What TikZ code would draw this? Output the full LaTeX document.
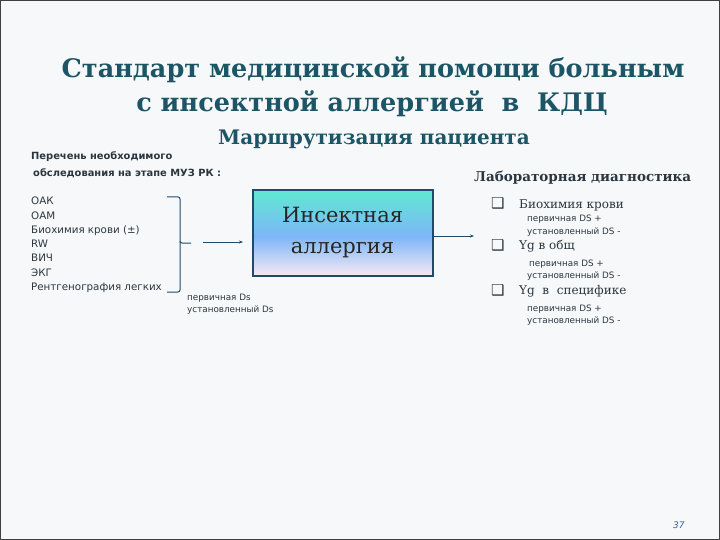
\documentclass[tikz,border=0pt]{standalone}
\usepackage{fontspec}
\setmainfont{DejaVu Serif}
\setsansfont{DejaVu Sans}
\newfontfamily\symfont{DejaVu Sans}
\usetikzlibrary{arrows.meta,positioning}
\definecolor{slidebg}{HTML}{F7F8F9}
\definecolor{titleink}{HTML}{1C5566}
\definecolor{bodyink}{HTML}{2A3640}
\definecolor{boxedge}{HTML}{1F4A6A}
\definecolor{boxtop}{HTML}{5FE9D2}
\definecolor{boxmid}{HTML}{7DB6F8}
\definecolor{boxbot}{HTML}{F6E8F4}
\definecolor{pageink}{HTML}{2E5E9E}
\pgfdeclareverticalshading{boxshade}{100bp}{color(0bp)=(boxbot); color(25bp)=(boxbot);
  color(48bp)=(boxmid); color(75bp)=(boxtop); color(100bp)=(boxtop)}

\begin{document}
\begin{tikzpicture}[x=1pt,y=-1pt,
  txt/.style={anchor=base west,inner sep=0pt,text=bodyink},
  item/.style={txt,font=\sffamily\fontsize{10.3}{13}\selectfont},
  note/.style={txt,font=\sffamily\fontsize{8.8}{11}\selectfont},
  labitem/.style={txt,font=\fontsize{12}{15}\selectfont},
  chk/.style={txt,font=\symfont\fontsize{15}{17}\selectfont},
  arr/.style={-{Stealth[length=4pt,width=3pt]},line width=1pt,draw=boxedge}]
  \useasboundingbox (0,0) rectangle (720,540);
  \draw[fill=slidebg,draw=black!75,line width=1.5pt] (0,0) rectangle (720,540);

  % title
  \node[anchor=base,inner sep=0pt,text=titleink,font=\bfseries\fontsize{25.5}{30}\selectfont] (t1)
    at (373,78) {Стандарт медицинской помощи больным};
  \node[anchor=base,inner sep=0pt,text=titleink,font=\bfseries\fontsize{25.5}{30}\selectfont] (t2)
    at (372,112) {с инсектной аллергией\ \ в\ \ КДЦ};
  \node[anchor=base,inner sep=0pt,text=titleink,font=\bfseries\fontsize{20}{24}\selectfont] (t3)
    at (374,145) {Маршрутизация пациента};

  % left column
  \node[txt,font=\sffamily\bfseries\fontsize{9.9}{12}\selectfont] (h1) at (31,160) {Перечень необходимого};
  \node[txt,font=\sffamily\bfseries\fontsize{9.9}{12}\selectfont] (h2) at (33,177) {обследования на этапе МУЗ РК :};
  \foreach \name [count=\i from 0] in {ОАК,ОАМ,Биохимия крови (±),RW,ВИЧ,ЭКГ,Рентгенография легких}
    \node[item] (li\i) at (31,205+14.2*\i) {\name};

  % brace
  \draw[boxedge,line width=1pt,rounded corners=2pt] (167,197) -- (180,197) -- (180,243) -- (191,243);
  \draw[boxedge,line width=1pt,rounded corners=2pt] (180,241) -- (180,292) -- (167,292);
  \node[note] (ds1) at (187,300) {первичная Ds};
  \node[note] (ds2) at (187,312) {установленный Ds};

  % central box
  \node[draw=boxedge,line width=2pt,shading=boxshade,
        minimum width=180pt,minimum height=85pt,inner sep=0pt,align=center,text=black!85,
        font=\fontsize{21}{31}\selectfont] (box) at (342.5,233) {Инсектная\\аллергия};
  \coordinate (inA) at (203,242);
  \coordinate (inB) at (243,242);
  \coordinate (outB) at (474,236);
  \draw[arr] (inA) -- (inB);
  \draw[arr] (box.east |- outB) -- (outB);

  % right column
  \node[txt,font=\bfseries\fontsize{13.5}{16}\selectfont] (lab) at (474,182) {Лабораторная диагностика};
  \node[chk] (c1) at (491,209) {❑};
  \node[labitem] (l1) at (519,208) {Биохимия крови};
  \node[note] (l1a) at (527,222) {первичная DS +};
  \node[note] (l1b) at (527,234) {установленный DS -};
  \node[chk] (c2) at (491,250) {❑};
  \node[labitem] (l2) at (519,249) {Yg в общ};
  \node[note] (l2a) at (529,266) {первичная DS +};
  \node[note] (l2b) at (527,278) {установленный DS -};
  \node[chk] (c3) at (491,295) {❑};
  \node[labitem] (l3) at (519,294) {Yg\ \ в\ \ специфике};
  \node[note] (l3a) at (527,311) {первичная DS +};
  \node[note] (l3b) at (527,323) {установленный DS -};

  \node[txt,text=pageink,font=\sffamily\itshape\fontsize{9}{11}\selectfont] (pg) at (673,528) {37};
\end{tikzpicture}
\end{document}
